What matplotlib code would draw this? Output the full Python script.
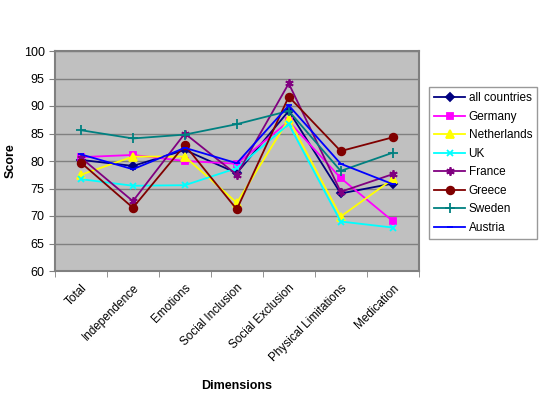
import matplotlib
matplotlib.use("Agg")
import matplotlib.pyplot as plt
from matplotlib.ticker import FixedLocator

categories = ["Total", "Independence", "Emotions", "Social Inclusion",
              "Social Exclusion", "Physical Limitations", "Medication"]

all_countries = [80.2, 79.1, 82.0, 77.8, 89.1, 74.1, 75.9]
germany       = [80.7, 81.1, 80.0, 79.5, 87.2, 76.9, 69.1]
netherlands   = [77.5, 80.8, 80.8, 72.4, 87.6, 69.9, 76.7]
uk            = [76.7, 75.5, 75.6, 78.7, 86.7, 69.0, 67.9]
france        = [80.6, 72.7, 85.0, 77.5, 94.1, 74.4, 77.6]
greece        = [79.7, 71.5, 82.9, 71.2, 91.7, 81.8, 84.3]
sweden        = [85.6, 84.1, 84.8, 86.7, 89.1, 78.2, 81.5]
austria       = [81.2, 78.5, 82.4, 79.6, 90.1, 79.5, 75.8]

series = [
    ("all countries", all_countries, "#000080", "D", 4),
    ("Germany", germany, "#FF00FF", "s", 5),
    ("Netherlands", netherlands, "#FFFF00", "^", 5.5),
    ("UK", uk, "#00FFFF", "x", 5),
    ("France", france, "#800080", (6, 2, 0), 6),
    ("Greece", greece, "#800000", "o", 5.5),
    ("Sweden", sweden, "#008080", "+", 6.5),
    ("Austria", austria, "#0000FF", "_", 4),
]

fig = plt.figure(figsize=(5.46, 4.0), dpi=100)
ax = fig.add_axes([0.1007, 0.3225, 0.666, 0.55])
ax.set_facecolor("#C0C0C0")

x = list(range(len(categories)))
for name, vals, col, mk, ms in series:
    ax.plot(x, vals, color=col, marker=mk, markersize=ms, linewidth=1.3,
            markeredgewidth=1.3, markeredgecolor=col, markerfacecolor=col,
            label=name, zorder=3)

ax.set_xlim(-0.5, len(categories) - 0.5)
ax.set_ylim(60, 100)
ax.set_yticks(range(60, 101, 5))
ax.yaxis.grid(True, color="#808080", linewidth=1)
ax.set_axisbelow(True)

ax.set_xticks(x)
ax.set_xticklabels(categories, rotation=45, ha="right", rotation_mode="anchor",
                   fontsize=8.5, family="Liberation Sans")
ax.tick_params(axis="x", which="major", length=0, pad=8)
ax.xaxis.set_minor_locator(FixedLocator([i - 0.5 for i in range(len(categories) + 1)]))
ax.tick_params(axis="x", which="minor", length=4, color="#808080")
ax.tick_params(axis="y", length=4, color="#808080", labelsize=9)
for lab in ax.get_yticklabels():
    lab.set_family("Liberation Sans")

for s in ax.spines.values():
    s.set_color("#808080")
    s.set_linewidth(1.5)

ax.set_ylabel("Score", fontsize=9, fontweight="bold", family="Liberation Sans", labelpad=5)
ax.set_xlabel("Dimensions", fontsize=9, fontweight="bold", family="Liberation Sans", labelpad=12)

leg = fig.legend(loc="upper left", bbox_to_anchor=(429 / 546, 1 - 87 / 400),
                 borderaxespad=0,
                 frameon=True, fancybox=False, edgecolor="#808080",
                 prop={"family": "Liberation Sans", "size": 8.5},
                 handlelength=2.6, labelspacing=0.55, borderpad=0.45,
                 handletextpad=0.3)
leg.get_frame().set_linewidth(1)

fig.savefig("out.png", dpi=100, facecolor="white")
